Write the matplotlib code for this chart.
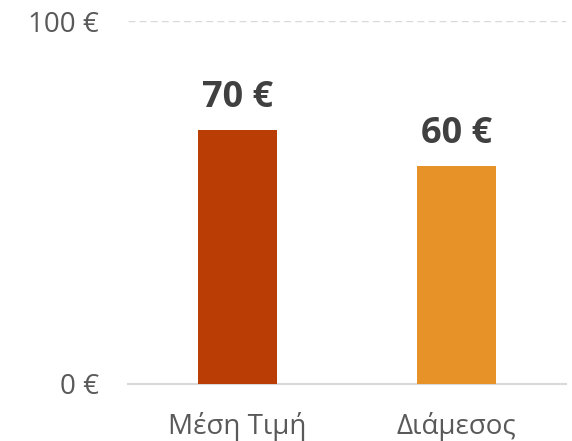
import matplotlib.pyplot as plt

categories = ['Μέση Τιμή', 'Διάμεσος']
values = [70, 60]
colors = ['#BB3D06', '#E69229']
yticks = [0, 100]
ytick_labels = ['0 €', '100 €']

plt.rcParams['font.family'] = ['Open Sans', 'Noto Sans', 'DejaVu Sans']

fig = plt.figure(figsize=(5.72, 4.41), dpi=100)
ax = fig.add_axes([128/572, 57/441, 438/572, 363/441])

x = range(len(categories))
bars = ax.bar(x, values, width=0.36, color=colors, zorder=3)

for xi, v in zip(x, values):
    ax.annotate(f'{v} €', (xi, v), xytext=(0, 10), textcoords='offset points',
                ha='center', va='bottom', fontsize=26, fontweight='bold',
                color='#404040')

ax.set_xlim(-0.5, 1.5)
ax.set_ylim(0, 100)
ax.set_xticks(list(x))
ax.set_xticklabels(categories, fontsize=20, color='#595959')
ax.set_yticks(yticks)
ax.set_yticklabels(ytick_labels, fontsize=20, color='#595959')
ax.tick_params(axis='both', length=0)
ax.tick_params(axis='x', pad=20)
ax.tick_params(axis='y', pad=21)

ax.axhline(100, color='#D9D9D9', linestyle=(0, (5, 3)), linewidth=1, zorder=1)
for s in ['top', 'right', 'left']:
    ax.spines[s].set_visible(False)
ax.spines['bottom'].set_color('#D9D9D9')
ax.spines['bottom'].set_linewidth(1.5)

fig.savefig('out.png', dpi=100)
